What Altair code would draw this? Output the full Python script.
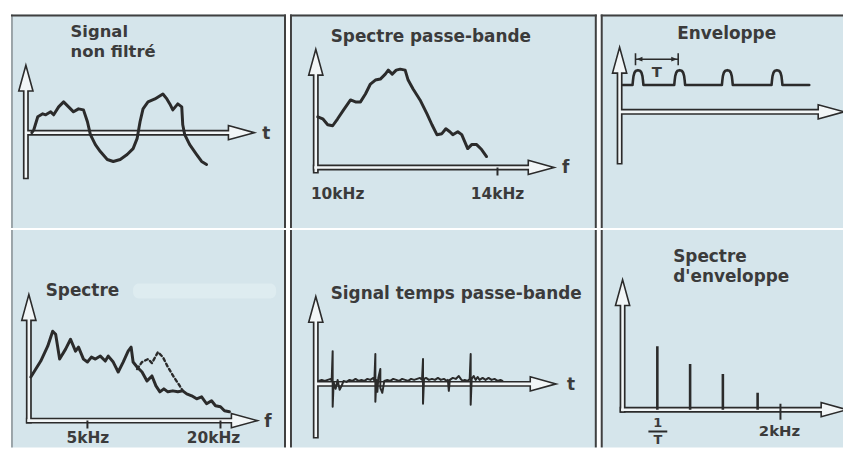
import altair as alt
import pandas as pd

BG = "#d5e5eb"
INK = "#2b2b2b"
TXT = "#3b3b3b"
EDGE = "#404040"
PALE = "#f2f6f7"
FONT = "DejaVu Sans"

# ---------------- data (offsets from each drawing's axis origin) ----------------
# Signal non filtré
sig_t = [6, 8, 12, 17, 20, 25, 28, 33, 38, 43, 48, 53, 58, 62, 65, 70, 75, 82, 88, 95,
         102, 108, 112, 115, 118, 123, 130, 138, 142, 145, 148, 153, 157, 158, 160, 165, 172, 177, 182]
sig_amp = [0, 3, 16, 19, 18, 21, 18, 26, 31, 26, 21, 24, 23, 11, -2, -12, -19, -27, -29, -27,
           -22, -16, -6, 11, 24, 31, 34, 39, 34, 29, 23, 29, 26, 8, -2, -12, -22, -29, -32]

# Spectre passe-bande
bp_f = [2, 7, 12, 17, 22, 28, 35, 40, 45, 50, 55, 60, 65, 70, 73, 77, 81, 85, 90, 93,
        98, 105, 112, 117, 122, 127, 131, 135, 138, 143, 147, 150, 153, 157, 162, 167, 172]
bp_lvl = [51, 49, 43, 42, 49, 58, 68, 66, 66, 74, 84, 88, 89, 94, 98, 94, 98, 99, 98, 88,
          79, 68, 54, 43, 33, 34, 39, 36, 33, 36, 33, 26, 19, 23, 23, 18, 11]
bp_labels = ["10kHz", "14kHz"]
bp_label_x = [22, 183]
bp_tick_x = [183]

# Enveloppe
env_t = [3,
         13, 13.5, 14, 15, 16.5, 18.5, 20.5, 22, 23, 23.5, 24,
         55, 55.5, 56, 57, 58.5, 60.5, 62.5, 64, 65, 65.5, 66,
         103, 103.5, 104, 105, 106.5, 108.5, 110.5, 112, 113, 113.5, 114,
         153, 153.5, 154, 155, 156.5, 158.5, 160.5, 162, 163, 163.5, 164,
         191]
env_lvl = [27,
           27, 32, 36, 39.5, 41.5, 42, 41.5, 39.5, 36, 32, 27,
           27, 32, 36, 39.5, 41.5, 42, 41.5, 39.5, 36, 32, 27,
           27, 32, 36, 39.5, 41.5, 42, 41.5, 39.5, 36, 32, 27,
           27, 32, 36, 39.5, 41.5, 42, 41.5, 39.5, 36, 32, 27,
           27]

# Spectre (full band) and dashed variant
sp_f = [2, 12, 19, 24, 27, 31, 37, 42, 47, 50, 55, 59, 63, 67, 72, 77, 80, 85, 90, 95,
        100, 103, 105, 109, 114, 119, 124, 128, 132, 136, 140, 145, 150, 155, 159, 164, 169, 174, 179, 184,
        188, 193, 197, 202]
sp_lvl = [44, 60, 75, 90, 87, 62, 72, 82, 70, 74, 62, 59, 64, 62, 65, 60, 65, 59, 49, 59,
          70, 74, 59, 54, 49, 40, 45, 35, 29, 32, 29, 30, 29, 30, 27, 25, 22, 24, 17, 20,
          15, 14, 10, 9]
spd_f = [109, 114, 120, 124, 130, 135, 140, 146, 152, 155]
spd_lvl = [52, 59, 62, 58, 69, 64, 54, 44, 35, 30]
sp_labels = ["5kHz", "20kHz"]
sp_label_x = [59.5, 186]
sp_tick_x = [59, 193]

# Signal temps passe-bande
bt_t = [3, 6, 9, 12, 15, 16, 17, 17, 18, 20, 22, 24, 26, 28, 31, 34, 37, 40, 43, 46,
        49, 52, 55, 58, 59, 60, 60, 61, 62, 63, 65, 65, 67, 69, 72, 75, 78, 81, 84, 87,
        90, 93, 96, 99, 102, 105, 107, 108, 108, 109, 111, 114, 117, 120, 123, 126, 129, 132, 133, 134,
        135, 138, 141, 144, 146, 148, 150, 153, 155, 156, 156, 157, 159, 161, 163, 165, 168, 171, 174, 177,
        180, 183, 186, 188]
bt_amp = [3, 4, 3, 4, 5, 3, 33, -23, 2, -5, 4, -6, -2, 3, 2, 4, 3, 5, 3, 4,
          3, 5, 4, 6, 3, 30, -18, 4, -8, 6, 15, -4, -9, 3, 4, 3, 5, 4, 3, 5,
          4, 3, 5, 4, 5, 6, 4, 25, -20, 5, 6, 4, 5, 4, 6, 4, 5, 3, 4, -7,
          4, 6, 5, 8, 5, 3, 4, 3, 5, 30, -21, 5, 8, 4, 7, 4, 6, 4, 6, 4,
          5, 3, 4, 3]

# Spectre d'enveloppe
ev_f = [35, 68, 101, 136]
ev_amp = [64, 46, 36, 17]
ev_labels = ["2kHz"]
ev_label_x = [158]
ev_tick_x = [159]

HEAD = 26
HEAD_PATH = "M0,-1L0.55,1L-0.55,1Z"
SMALL_PATH = "M0,-1L0.8,1L-0.8,1Z"


def frame(xs, ys):
    return pd.DataFrame({"x": xs, "y": ys, "i": list(range(len(xs)))})


def panel(W, H, ox, oy, arrow, lines, texts, rules=(), heads_small=None, patch=None,
          borders=("l", "r"), left_edge=EDGE):
    sx = alt.Scale(domain=[-ox, W - ox], nice=False, zero=False)
    sy = alt.Scale(domain=[-(H - oy), oy], nice=False, zero=False)
    X = alt.X("x:Q", scale=sx, axis=None)
    Y = alt.Y("y:Q", scale=sy, axis=None)
    one = pd.DataFrame({"k": [0]})
    layers = []
    if patch is not None:
        layers.append(alt.Chart(patch).mark_rect(color="#deecf0", cornerRadius=6, clip=True).encode(
            x=X, y=Y, x2=alt.X2("x2"), y2=alt.Y2("y2")))
    if "l" in borders:
        layers.append(alt.Chart(one).mark_rule(color=left_edge, strokeWidth=2).encode(
            x=alt.value(1), y=alt.value(0), y2=alt.value(H)))
    if "r" in borders:
        layers.append(alt.Chart(one).mark_rule(color=EDGE, strokeWidth=2).encode(
            x=alt.value(W - 1), y=alt.value(0), y2=alt.value(H)))
    if "t" in borders:
        layers.append(alt.Chart(one).mark_rule(color=EDGE, strokeWidth=2).encode(
            x=alt.value(0), x2=alt.value(W), y=alt.value(1)))
    vb, vt, hl, ht = arrow
    dark = pd.DataFrame({"x": [0, hl], "y": [vb, 0], "x2": [0, ht - HEAD + 1], "y2": [vt - HEAD + 1, 0]})
    white = pd.DataFrame({"x": [0, hl + 1.5], "y": [vb + 1.5, 0],
                          "x2": [0, ht - HEAD + 5], "y2": [vt - HEAD + 5, 0]})
    heads = pd.DataFrame({"x": [0, ht - HEAD / 2], "y": [vt - HEAD / 2, 0], "a": [0, 90]})
    layers.append(alt.Chart(dark).mark_rule(color=INK, strokeWidth=6, clip=True).encode(
        x=X, y=Y, x2=alt.X2("x2"), y2=alt.Y2("y2")))
    layers.append(alt.Chart(heads).mark_point(
        shape=HEAD_PATH, size=HEAD * HEAD, filled=True, fill=PALE, stroke=INK,
        strokeWidth=1.6, opacity=1, clip=True).encode(x=X, y=Y, angle=alt.Angle("a:Q", scale=None)))
    layers.append(alt.Chart(white).mark_rule(color=PALE, strokeWidth=2.6, clip=True).encode(
        x=X, y=Y, x2=alt.X2("x2"), y2=alt.Y2("y2")))
    for df, w in rules:
        layers.append(alt.Chart(df).mark_rule(color=INK, strokeWidth=w, clip=True).encode(
            x=X, y=Y, x2=alt.X2("x2"), y2=alt.Y2("y2")))
    if heads_small is not None:
        layers.append(alt.Chart(heads_small).mark_point(
            shape=SMALL_PATH, size=36, filled=True, color=INK, opacity=1, clip=True).encode(
            x=X, y=Y, angle=alt.Angle("a:Q", scale=None)))
    for df, w, dash in lines:
        kw = {"strokeDash": dash} if dash else {}
        layers.append(alt.Chart(df).mark_line(
            color=INK, strokeWidth=w, strokeJoin="round", strokeCap="round", clip=True, **kw).encode(
            x=X, y=Y, order=alt.Order("i:Q")))
    for df, align, base in texts:
        layers.append(alt.Chart(df).mark_text(
            font=FONT, fontWeight="bold", align=align, baseline=base, color=TXT, clip=True).encode(
            x=X, y=Y, text="label:N", size=alt.Size("s:Q", scale=None)))
    return alt.layer(*layers).properties(width=W, height=H)


def texts(xs, ys, labels, size):
    return pd.DataFrame({"x": xs, "y": ys, "label": labels, "s": [size] * len(labels)})


def vrules(xs, y0, y1):
    return pd.DataFrame({"x": xs, "x2": xs, "y": [y0] * len(xs), "y2": [y1] * len(xs)})


# ---- A: Signal non filtré ----
pA = panel(277, 215, 15, 119, (-47, 68, -1.5, 230),
           [(frame(sig_t, sig_amp), 3, None)],
           [(texts([45, 45], [96, 76], ["Signal", "non filtré"], 16.5), "left", "alphabetic"),
            (texts([238], [-1], ["t"], 17), "left", "middle")],
           borders=("l", "r", "t"), left_edge="#9aa4a8")

# ---- B: Spectre passe-bande ----
pB = panel(309, 215, 26, 154, (-6, 119, -3, 240),
           [(frame(bp_f, bp_lvl), 3, None)],
           [(texts([15], [126], ["Spectre passe-bande"], 17), "left", "alphabetic"),
            (texts(bp_label_x, [-32, -32], bp_labels, 15.5), "center", "alphabetic"),
            (texts([248], [-1], ["f"], 17), "left", "middle")],
           rules=[(vrules(bp_tick_x, 0, -8), 2)],
           borders=("l", "r", "t"))

# ---- C: Enveloppe ----
T_bar = pd.DataFrame({"x": [16, 16, 59], "x2": [59, 16, 59], "y": [53, 47, 47], "y2": [53, 59, 59]})
T_heads = pd.DataFrame({"x": [20, 55], "y": [53, 53], "a": [270, 90]})
pC = panel(244, 215, 19, 98, (-53, 65, -1.5, 226),
           [(frame(env_t, env_lvl), 2.6, None)],
           [(texts([58], [73], ["Enveloppe"], 17), "left", "alphabetic"),
            (texts([37.5], [35], ["T"], 15), "center", "alphabetic")],
           rules=[(T_bar, 1.6)], heads_small=T_heads,
           borders=("l", "t"))

# ---- D: Spectre ----
patchD = pd.DataFrame({"x": [105], "x2": [249], "y": [123], "y2": [138]})
pD = panel(277, 219, 18, 192, (-3, 127, -3, 230),
           [(frame(sp_f, sp_lvl), 3, None), (frame(spd_f, spd_lvl), 2.4, [3, 3])],
           [(texts([17], [126], ["Spectre"], 17), "left", "alphabetic"),
            (texts(sp_label_x, [-23, -23], sp_labels, 15.5), "center", "alphabetic"),
            (texts([237], [-1], ["f"], 17), "left", "middle")],
           rules=[(vrules(sp_tick_x, 0, -8), 2)], patch=patchD,
           borders=("l", "r"), left_edge="#9aa4a8")

# ---- E: Signal temps passe-bande ----
pE = panel(309, 219, 26, 155, (-55, 88, -1.5, 242),
           [(frame(bt_t, bt_amp), 2, None)],
           [(texts([15], [85], ["Signal temps passe-bande"], 17), "left", "alphabetic"),
            (texts([253], [-1], ["t"], 17), "left", "middle")],
           borders=("l", "r"))

# ---- F: Spectre d'enveloppe ----
ev_lines = pd.DataFrame({"x": ev_f, "x2": ev_f, "y": ev_amp, "y2": [0] * len(ev_f)})
frac = pd.DataFrame({"x": [26], "x2": [45], "y": [-22], "y2": [-22]})
pF = panel(244, 219, 22, 181, (-3, 131, -3, 226),
           [],
           [(texts([51, 51], [149, 129], ["Spectre", "d'enveloppe"], 17), "left", "alphabetic"),
            (texts([35.5, 35.5], [-17, -35], ["1", "T"], 13), "center", "alphabetic"),
            (texts(ev_label_x, [-26], ev_labels, 15), "center", "alphabetic")],
           rules=[(ev_lines, 2.6), (vrules(ev_tick_x, 6, -10), 2), (frac, 2)],
           borders=("l",))

col1 = alt.vconcat(pA, pD, spacing=0)
col2 = alt.vconcat(pB, pE, spacing=0)
col3 = alt.vconcat(pC, pF, spacing=0)

chart = alt.hconcat(col1, col2, col3, spacing=2).properties(
    padding={"left": 2, "top": 4, "right": 0, "bottom": 0},
    background="white",
).configure_view(fill=BG, stroke=None)

chart.save("out.html", embed_options={"renderer": "svg", "actions": False})
